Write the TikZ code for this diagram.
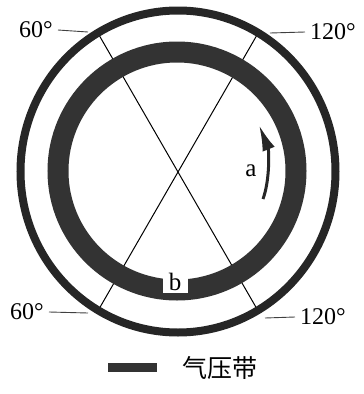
\documentclass[tikz,border=0pt]{standalone}
\usepackage{fontspec}
\setmainfont{Liberation Serif}
\newfontfamily\cjk{Noto Sans CJK SC}
\usetikzlibrary{arrows.meta,positioning}
\tikzset{
  ring/.style={draw=black!85, line width=8pt},
  band/.style={draw=black!80, line width=21pt},
  axis/.style={draw=black, line width=1pt},
  leader/.style={draw=black!75, line width=0.9pt},
  deg/.style={font=\fontsize{24}{26}\selectfont, inner xsep=5pt, inner ysep=0pt},
  letter/.style={font=\fontsize{25}{27}\selectfont, inner sep=1pt},
  notch/.style={fill=white, draw=none},
  flow/.style={-{Latex[length=26pt, width=13pt]}, line width=3pt, black!85},
  key/.style={fill=black!80, draw=none, minimum width=49pt, minimum height=9pt, inner sep=0pt},
  keytext/.style={font=\cjk\fontsize{25}{27}\selectfont, inner sep=0pt}
}

\begin{document}
\begin{tikzpicture}[x=1pt,y=-1pt]
  \useasboundingbox (0,0) rectangle (364,394);
  \coordinate (o) at (178,172);
  \coordinate (tlend) at (99,35);
  \coordinate (brend) at (257,309);
  \coordinate (trend) at (257,35);
  \coordinate (blend) at (99,309);
  \draw[axis] (tlend) -- (brend);
  \draw[axis] (trend) -- (blend);
  \draw[ring] (178,171.5) ellipse [x radius=157.5pt, y radius=161pt];
  \draw[band] (177,171) circle [radius=119pt];
  \node[notch, minimum width=25pt, minimum height=24pt, inner sep=0pt] (gap) at (175.5,281) {};
  \node[letter] (b) at (175,282) {b};
  \coordinate (abot) at (263,199);
  \coordinate (atip) at (259,125);
  \draw[flow] (abot) .. controls (270,180) and (269,150) .. (atip);
  \node[letter] (a) at (251,171) {a};
  % latitude labels
  \node[deg] (tl) at (36,30) {60°};
  \node[deg] (tr) at (333,32) {120°};
  \node[deg] (bl) at (27,312) {60°};
  \node[deg] (br) at (323,317) {120°};
  \coordinate (tlring) at (88,32);
  \coordinate (trring) at (270,33);
  \coordinate (blring) at (88,313);
  \coordinate (brring) at (265,318);
  \draw[leader] (tl.east) -- (tlring);
  \draw[leader] (tr.west) -- (trring);
  \draw[leader] (bl.east) -- (blring);
  \draw[leader] (br.west) -- (brring);
  % legend
  \node[key] (legbar) at (132.5,367.5) {};
  \node[keytext, right=25pt of legbar] (legtext) {气压带};
\end{tikzpicture}
\end{document}
